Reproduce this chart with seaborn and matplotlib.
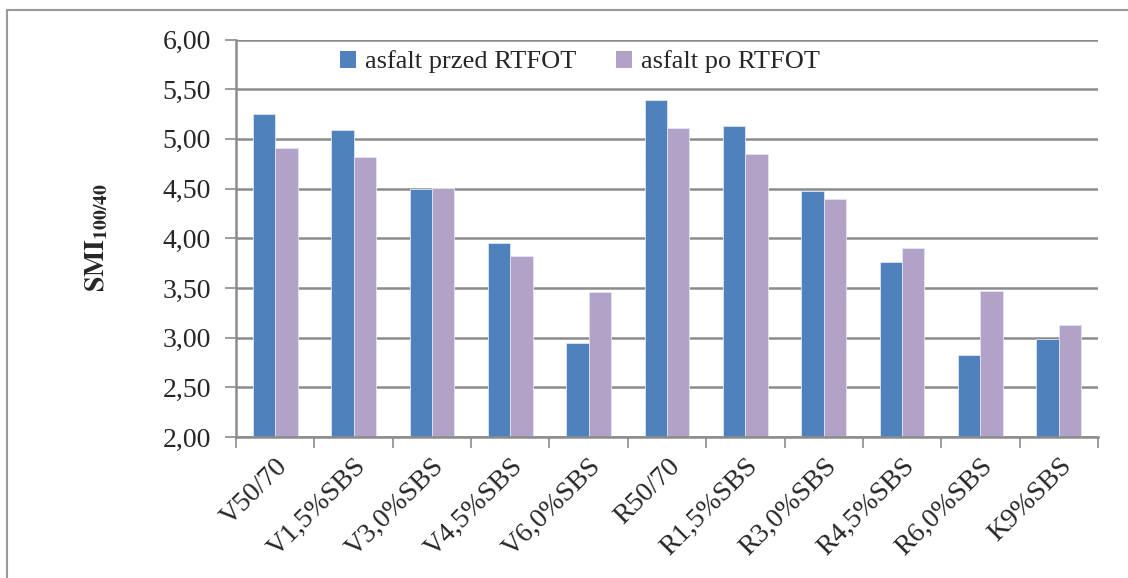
import matplotlib
matplotlib.use("Agg")
import matplotlib.pyplot as plt
import seaborn as sns
import pandas as pd
from matplotlib.patches import Rectangle, Patch

categories = ["V50/70", "V1,5%SBS", "V3,0%SBS", "V4,5%SBS", "V6,0%SBS",
              "R50/70", "R1,5%SBS", "R3,0%SBS", "R4,5%SBS", "R6,0%SBS", "K9%SBS"]
przed = [5.25, 5.09, 4.50, 3.95, 2.95, 5.39, 5.13, 4.48, 3.76, 2.83, 2.99]
po = [4.91, 4.82, 4.51, 3.82, 3.46, 5.11, 4.85, 4.39, 3.90, 3.47, 3.13]
series_names = ["asfalt przed RTFOT", "asfalt po RTFOT"]
y_ticks = [2.0, 2.5, 3.0, 3.5, 4.0, 4.5, 5.0, 5.5, 6.0]
y_tick_labels = ["2,00", "2,50", "3,00", "3,50", "4,00", "4,50", "5,00", "5,50", "6,00"]

df = pd.DataFrame({
    "cat": categories * 2,
    "val": przed + po,
    "ser": [series_names[0]] * len(categories) + [series_names[1]] * len(categories),
})

sns.set_theme(style="white")
plt.rcParams["font.family"] = ["Liberation Serif", "DejaVu Serif"]
plt.rcParams["mathtext.fontset"] = "stix"

colors = ["#4F81BD", "#B3A2C7"]
fig = plt.figure(figsize=(11.28, 5.78), dpi=100)
ax = fig.add_axes([236 / 1128, 1 - 437 / 578, (1098 - 236) / 1128, (437 - 39.5) / 578])

sns.barplot(data=df, x="cat", y="val", hue="ser", palette=colors, width=0.57,
            ax=ax, legend=False, edgecolor="#dfe6f2", linewidth=0.6, saturation=1)

ax.set_ylim(2.0, 6.0)
ax.set_xlim(-0.5, len(categories) - 0.5)
ax.set_yticks(y_ticks)
ax.set_yticklabels(y_tick_labels, fontsize=20)
ax.yaxis.grid(True, color="#8c8c8c", linewidth=1.8)
ax.set_axisbelow(True)

ax.set_xticks(range(len(categories)))
ax.set_xticklabels(categories, rotation=45, ha="right", rotation_mode="anchor", fontsize=20)
ax.set_xticks([i - 0.5 for i in range(len(categories) + 1)], minor=True)
ax.tick_params(axis="x", which="major", length=0, pad=12)
ax.tick_params(axis="x", which="minor", length=8, width=1.2, color="#8c8c8c", direction="out", bottom=True)
ax.tick_params(axis="y", which="major", length=8, width=1.2, color="#8c8c8c", direction="out", left=True, pad=10)

for s in ["top", "right"]:
    ax.spines[s].set_visible(False)
for s in ["left", "bottom"]:
    ax.spines[s].set_visible(True)
    ax.spines[s].set_color("#8c8c8c")
    ax.spines[s].set_linewidth(1.8)

ax.set_xlabel("")
ax.set_ylabel(r"$\mathbf{SMI_{100/40}}$", fontsize=20, labelpad=38)

handles = [Patch(facecolor=colors[0], edgecolor="none"), Patch(facecolor=colors[1], edgecolor="none")]
fig.legend(handles, series_names, loc="center", bbox_to_anchor=(580 / 1128, 1 - 62 / 578),
           ncol=2, frameon=False, fontsize=19, handlelength=0.6, handleheight=0.6,
           handletextpad=0.35, columnspacing=1.5)

fig.patches.append(Rectangle((7 / 1128, -0.1), 1.2, 1 - 10 / 578 + 0.1, transform=fig.transFigure,
                             fill=False, edgecolor="#9a9a9a", linewidth=1.5))

fig.savefig("out.png", dpi=100)
